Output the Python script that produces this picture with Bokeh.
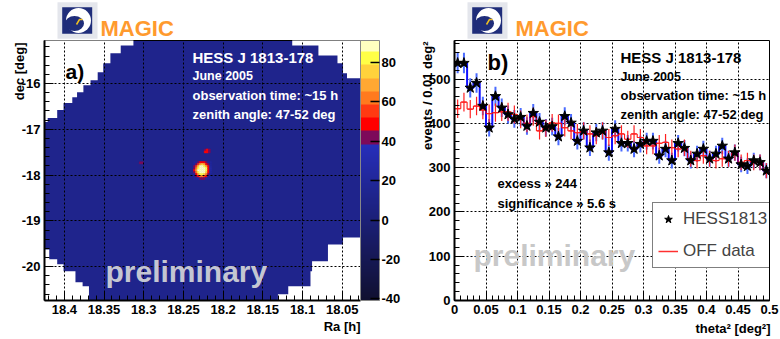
import numpy as np
from bokeh.plotting import figure
from bokeh.models import (Range1d, Label, Legend, LegendItem, ColorBar,
                          LinearColorMapper, FixedTicker, CustomJSTickFormatter,
                          ColumnDataSource)
from bokeh.layouts import column, row
from bokeh.embed import file_html
from bokeh.resources import INLINE

FONT = "Liberation Sans"

# ---------------- panel a: sky map data ----------------
ra_ticks = [18.05, 18.1, 18.15, 18.2, 18.25, 18.3, 18.35, 18.4]
dec_ticks = [-20, -19, -18, -17, -16]
cbar_ticks = [-40, -20, 0, 20, 40, 60, 80]
sky_level = 12

# main excess (rows top -> bottom, columns left(high Ra) -> right)
hot_ra, hot_dec = 18.226, -17.90
hot_vals = [
    [20, 20, 40, 46, 48, 46, 40, 20, 20],
    [20, 44, 58, 70, 74, 68, 52, 40, 20],
    [40, 55, 76, 86, 90, 84, 70, 47, 22],
    [45, 62, 84, 91, 91, 91, 80, 50, 24],
    [47, 66, 86, 91, 91, 91, 82, 52, 24],
    [44, 60, 82, 91, 91, 88, 76, 48, 22],
    [22, 50, 68, 80, 84, 78, 62, 44, 20],
    [20, 42, 52, 60, 62, 56, 46, 22, 20],
    [20, 20, 22, 42, 44, 42, 22, 20, 20],
]
spot2_ra, spot2_dec = 18.220, -17.472
spot2_vals = [[42, 48, 44], [46, 50, 40]]
spot3_ra, spot3_dec = 18.303, -17.733
spot3_vals = [[40, 41]]

# edges of the covered sky region (staircase corner points)
tl_ra = [18.313, 18.329, 18.342, 18.351, 18.358, 18.367, 18.376, 18.384, 18.390, 18.401, 18.409, 18.421, 18.425]
tl_dec = [-15.059, -15.167, -15.341, -15.559, -15.754, -15.928, -16.037, -16.189, -16.298, -16.428, -16.580, -16.754, -16.841]
bl_ra = [18.425, 18.419, 18.409, 18.401, 18.386, 18.377, 18.369, 18.363]
bl_dec = [-19.102, -19.624, -19.841, -19.950, -20.102, -20.341, -20.428, -20.754]
br_ra = [18.131, 18.118, 18.090, 18.088, 18.068, 18.049, 18.044, 18.027]
br_dec = [-20.754, -20.602, -20.428, -20.102, -19.884, -19.515, -19.363, -19.363]
tr_ra = [18.113, 18.080, 18.056, 18.049, 18.044, 18.027]
tr_dec = [-15.059, -15.167, -15.385, -15.559, -15.776, -15.885]

# ---------------- panel b: theta^2 data ----------------
theta2_lo = [round(0.01 * i, 2) for i in range(50)]
on_counts = [536, 536, 480, 491, 439, 390, 461, 435, 420, 410,
             414, 394, 423, 403, 390, 393, 370, 416, 401, 360,
             383, 345, 379, 383, 334, 387, 355, 355, 342, 353,
             360, 360, 327, 342, 316, 355, 344, 316, 331, 342,
             320, 331, 349, 320, 334, 307, 303, 316, 312, 293]
off_counts = [433, 448, 432, 439, 430, 422, 424, 426, 426, 420,
              409, 400, 415, 383, 389, 401, 400, 390, 383, 379,
              383, 376, 372, 383, 368, 372, 376, 364, 376, 368,
              349, 349, 355, 357, 345, 342, 345, 320, 316, 327,
              320, 316, 320, 320, 334, 312, 316, 312, 312, 293]
theta2_ticks = [0, 0.05, 0.1, 0.15, 0.2, 0.25, 0.3, 0.35, 0.4, 0.45, 0.5]
count_ticks = [0, 100, 200, 300, 400, 500]

# ---------------- palette (ROOT-like) ----------------
cb_low, cb_high = -40.8, 91.2
band_edges = [38.4, 45.1, 51.8, 58.5, 65.2, 71.9, 78.6, 85.3]
band_colors = ["#7d0a5a", "#ff0000", "#ff3a12", "#ff7a1e", "#ffa832", "#ffd23c", "#ffff46", "#ffffc0"]
blue_lo, blue_hi = (16, 16, 48), (38, 46, 186)


def pal_color(v):
    if v < band_edges[0]:
        t = (v - cb_low) / (band_edges[0] - cb_low)
        c = [int(round(a + (b - a) * t)) for a, b in zip(blue_lo, blue_hi)]
        return "#%02x%02x%02x" % tuple(c)
    k = max(j for j, e in enumerate(band_edges) if v >= e)
    return band_colors[k]


palette = [pal_color(cb_low + (i + 0.5) * (cb_high - cb_low) / 256) for i in range(256)]
mapper = LinearColorMapper(palette=palette, low=cb_low, high=cb_high)
sky_color = pal_color(sky_level)


def cells(ra0, dec0, vals, dra=0.00252, ddec=0.0435):
    arr = np.asarray(vals, float)
    nr, nc = arr.shape
    xs, ys, vs = [], [], []
    for i in range(nr):
        for j in range(nc):
            xs.append(ra0 - (j - (nc - 1) / 2) * dra)
            ys.append(dec0 + ((nr - 1) / 2 - i) * ddec)
            vs.append(arr[i, j])
    return xs, ys, vs


def stairs(ra, dec):
    xs, ys = [ra[0]], [dec[0]]
    for k in range(1, len(ra)):
        xs += [ra[k - 1], ra[k]]
        ys += [dec[k], dec[k]]
    return xs, ys


def lab(p, text, x, y, size, color="black", style="bold", align="left",
        baseline="alphabetic", angle=0.0, font=FONT, place="center"):
    lbl = Label(x=x, y=y, x_units="canvas", y_units="canvas", text=text,
                text_font=font, text_font_size=size, text_font_style=style,
                text_color=color, text_align=align, text_baseline=baseline,
                angle=angle)
    if place == "center":
        p.add_layout(lbl)
    else:
        p.add_layout(lbl, place)


def style_axes(p):
    for ax in (p.xaxis[0], p.yaxis[0]):
        ax.axis_line_width = 2
        ax.axis_line_color = "black"
        ax.major_tick_in = 9
        ax.major_tick_out = 0
        ax.minor_tick_in = 5
        ax.minor_tick_out = 0
        ax.major_tick_line_color = "black"
        ax.minor_tick_line_color = "black"
        ax.major_label_text_font = FONT
        ax.major_label_text_font_style = "bold"
        ax.major_label_text_font_size = "13px"
        ax.major_label_text_color = "black"
        ax.major_label_standoff = 4
        ax.formatter = CustomJSTickFormatter(code="return String(tick)")
    p.grid.grid_line_color = "black"
    p.grid.grid_line_dash = "2 2"
    p.grid.grid_line_width = 1
    p.outline_line_color = "black"
    p.outline_line_width = 1


# ======================= header (logos) =======================
hd = figure(width=780, height=40, x_range=Range1d(0, 780), y_range=Range1d(40, 0),
            x_axis_type=None, y_axis_type=None, output_backend="svg",
            toolbar_location=None, min_border=0, outline_line_color=None, title=None)
for ox, mx in [(57, 100), (467, 515)]:
    hd.quad(left=ox, right=ox + 40, top=1.7, bottom=38.3, fill_color="#e4e6ec", line_color=None)
    hd.quad(left=ox + 4.7, right=ox + 34.7, top=6.7, bottom=33.3, fill_color="#1f2d7a", line_color=None)
    hd.ellipse(x=ox + 21, y=20, width=25, height=25, fill_color="white", line_color=None)
    hd.ellipse(x=ox + 17, y=23, width=19, height=15, fill_color="#1f2d7a", line_color=None)
    hd.line(x=[ox + 19, ox + 22, ox + 25], y=[24, 19, 19], line_color="#f0c020", line_width=1.5)
    hd.add_layout(Label(x=mx, y=28.3, text="MAGIC", text_font=FONT, text_font_size="22px",
                        text_font_style="bold", text_color="#ff9a2e", text_baseline="alphabetic"))

# ======================= panel a =======================
pa = figure(width=408, height=299, x_range=Range1d(18.425, 18.027), y_range=Range1d(-20.74, -15.06),
            output_backend="svg", toolbar_location=None, title=None,
            min_border_left=44, min_border_right=48, min_border_top=0, min_border_bottom=37,
            background_fill_color=sky_color)

for bra, bdec, close_ra, close_dec in [
        (tl_ra, tl_dec, [18.45, 18.45, tl_ra[0]], [tl_dec[-1], -15.0, -15.0]),
        (bl_ra, bl_dec, [bl_ra[-1], 18.45, 18.45], [-20.8, -20.8, bl_dec[0]]),
        (br_ra, br_dec, [18.0, 18.0, br_ra[0]], [br_dec[-1], -20.8, -20.8]),
        (tr_ra, tr_dec, [18.0, 18.0, tr_ra[0]], [tr_dec[-1], -15.0, -15.0])]:
    sx, sy = stairs(bra, bdec)
    pa.patch(sx + close_ra, sy + close_dec, fill_color="white", line_color=None)

for r0, d0, vals in [(hot_ra, hot_dec, hot_vals), (spot2_ra, spot2_dec, spot2_vals),
                     (spot3_ra, spot3_dec, spot3_vals)]:
    xs, ys, vs = cells(r0, d0, vals)
    src = ColumnDataSource(dict(x=xs, y=ys, v=vs))
    pa.rect(x="x", y="y", width=0.00252, height=0.0435, source=src,
            fill_color={"field": "v", "transform": mapper},
            line_color={"field": "v", "transform": mapper}, line_width=0.5)

style_axes(pa)
pa.xaxis[0].ticker = FixedTicker(ticks=ra_ticks,
                                 minor_ticks=[round(18.03 + 0.01 * i, 2) for i in range(40)])
pa.yaxis[0].ticker = FixedTicker(ticks=dec_ticks,
                                 minor_ticks=[round(-20.6 + 0.2 * i, 1) for i in range(28)])
pa.xgrid.ticker = FixedTicker(ticks=ra_ticks)
pa.ygrid.ticker = FixedTicker(ticks=dec_ticks)
pa.xgrid.level = "guide"
pa.ygrid.level = "guide"

cb = ColorBar(color_mapper=mapper, ticker=FixedTicker(ticks=cbar_ticks),
              formatter=CustomJSTickFormatter(code="return String(tick)"),
              width=19, padding=0, margin=0, location="top_left",
              major_tick_in=9, major_tick_out=0, major_tick_line_color="black",
              major_tick_line_width=1.5, minor_tick_line_color=None,
              label_standoff=2, major_label_text_font=FONT, major_label_text_font_style="bold",
              major_label_text_font_size="13px", major_label_text_color="black",
              bar_line_color="#888888", border_line_color=None, background_fill_color=None)
pa.add_layout(cb, "right")

# panel a texts (canvas coords: ref - (0, 40))
lab(pa, "a)", 65, 31, "21px")
lab(pa, "HESS J 1813-178", 192, 16.5, "15px", color="white")
lab(pa, "June 2005", 192, 35.5, "12.5px", color="white")
lab(pa, "observation time: ~15 h", 192, 54.5, "13px", color="white")
lab(pa, "zenith angle: 47-52 deg", 192, 74, "13px", color="white")
lab(pa, "preliminary", 105, 231, "30px", color="#c4c6d2")
lab(pa, "dec [deg]", 19, 2, "13px", align="right", baseline="middle", angle=np.pi / 2, place="left")
lab(pa, "Ra [h]", 360, 286, "13px", align="right", place="below")

# ======================= panel b =======================
pb = figure(width=372, height=299, x_range=Range1d(0, 0.5), y_range=Range1d(0, 587),
            output_backend="svg", toolbar_location=None, title=None,
            min_border_left=46, min_border_right=11, min_border_top=0, min_border_bottom=39)
style_axes(pb)
pb.xaxis[0].ticker = FixedTicker(ticks=theta2_ticks,
                                 minor_ticks=[round(0.01 * i, 2) for i in range(51)])
pb.yaxis[0].ticker = FixedTicker(ticks=count_ticks,
                                 minor_ticks=[20 * i for i in range(30)])
pb.xgrid.ticker = FixedTicker(ticks=theta2_ticks)
pb.ygrid.ticker = FixedTicker(ticks=count_ticks)

lo = np.array(theta2_lo)
ctr = lo + 0.005
on = np.array(on_counts, float)
off = np.array(off_counts, float)
edges = np.append(lo, 0.5)

pb.step(edges, np.append(on, on[-1]), mode="after", line_color="#1010ff", line_width=2)
pb.segment(ctr, on - np.sqrt(on), ctr, on + np.sqrt(on), line_color="#4a6bff", line_width=2)
pb.step(edges, np.append(off, off[-1]), mode="after", line_color="#ff0000", line_width=1)
pb.segment(ctr, off - np.sqrt(off), ctr, off + np.sqrt(off), line_color="#ff2020", line_width=1.2)
pb.segment(ctr - 0.004, off, ctr + 0.004, off, line_color="#ff2020", line_width=1.2)
stars = pb.scatter(ctr, on, marker="star", size=11, fill_color="black", line_color="black")
# legend key for the OFF histogram (kept outside the visible range)
off_key = pb.line(x=[-1.0, -0.9], y=[-50.0, -50.0], line_color="#ff3030", line_width=1.5)

legend = Legend(items=[LegendItem(label="HESS1813", renderers=[stars]),
                       LegendItem(label="OFF data", renderers=[off_key])],
                location=(198, 32), padding=5, spacing=10, margin=0,
                glyph_width=20, glyph_height=22, label_height=22, label_standoff=5,
                label_text_font=FONT, label_text_font_size="17px",
                border_line_color="black", border_line_width=1,
                background_fill_color="white", background_fill_alpha=1.0)
pb.add_layout(legend)

# panel b texts (canvas coords: ref - (408, 40))
lab(pb, "b)", 79, 22, "22px")
lab(pb, "HESS J 1813-178", 212, 17, "15px")
lab(pb, "June 2005", 212, 36, "12.5px")
lab(pb, "observation time: ~15 h", 212, 54.5, "13px")
lab(pb, "zenith angle: 47-52 deg", 212, 74, "13px")
lab(pb, "excess » 244", 89, 143, "13px")
lab(pb, "significance » 5.6 s", 89, 162.5, "13px")
lab(pb, "preliminary", 65, 215, "30px", color="#c8c8c8")
lab(pb, "events / 0.01 deg²", 19, 1, "13px", align="right", baseline="middle",
    angle=np.pi / 2, place="left")
lab(pb, "theta² [deg²]", 362, 287.5, "13px", align="right", place="below")

layout = column(hd, row(pa, pb))
open("out.html", "w").write(file_html(layout, INLINE))
